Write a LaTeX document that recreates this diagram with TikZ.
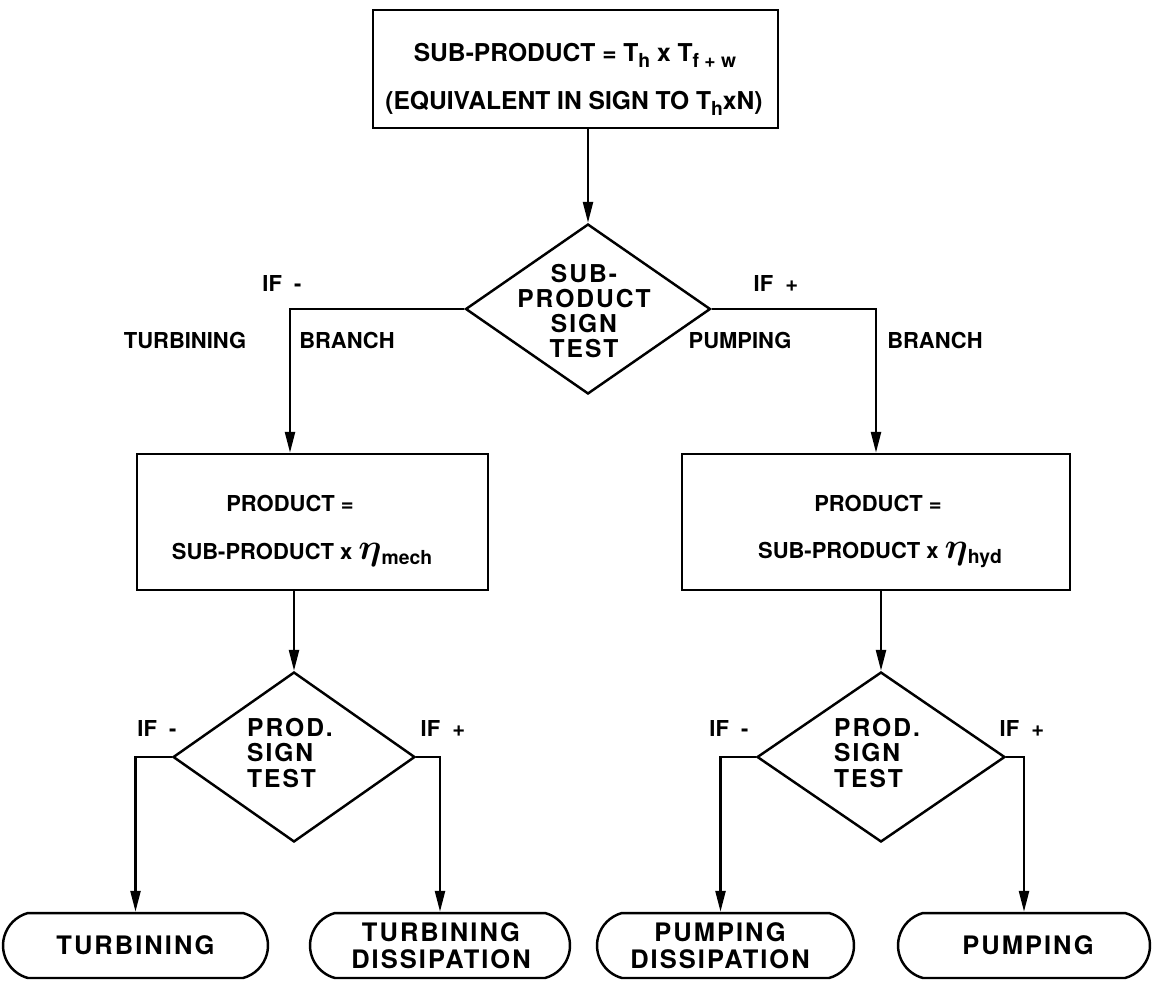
\documentclass[tikz,border=0pt]{standalone}
\usepackage{fontspec}
\setmainfont{TeX Gyre Heros}
\usetikzlibrary{shapes.geometric,shapes.misc,arrows.meta}
\newcommand\sbs[1]{\raisebox{-0.45ex}{\fontsize{11}{11}\selectfont #1}}
\newcommand\etasym{{\fontsize{20}{20}\selectfont\boldmath$\eta$}}
\begin{document}
\begin{tikzpicture}[x=0.02cm,y=-0.02cm, line width=1.4pt,
  box/.style={draw, rectangle, inner sep=0pt},
  dia/.style={draw, diamond, inner sep=0pt, minimum width=4.9cm, minimum height=3.4cm},
  term/.style={draw, rounded rectangle, rounded rectangle arc length=150, inner sep=0pt, minimum height=1.3cm},
  txt/.style={font=\bfseries\fontsize{12.5}{14.5}\selectfont, inner sep=0pt, align=center},
  toptxt/.style={font=\bfseries\fontsize{14}{16}\selectfont, inner sep=0pt, align=center},
  dtxt/.style={font=\bfseries\fontsize{14}{14.3}\selectfont\addfontfeatures{LetterSpace=8}, inner sep=0pt, align=center},
  ttxt/.style={font=\bfseries\fontsize{14.5}{15.5}\selectfont\addfontfeatures{LetterSpace=8}, inner sep=0pt, align=center},
  arr/.style={-{Triangle[length=0.42cm,width=0.2cm]}}]
\useasboundingbox (0,0) rectangle (1155,980);

% top box
\node[box, minimum width=8.1cm, minimum height=2.36cm] (top) at (575.5,69) {};
\node[toptxt] (top1) at (575,55) {SUB-PRODUCT = T\sbs{h} x T\sbs{f + w}};
\node[toptxt] (top2) at (574,103) {(EQUIVALENT IN SIGN TO T\sbs{h}xN)};

% first decision
\node[dia] (d1) at (588,309) {};
\node[dtxt] (d1t) at (584,311) {SUB-\\PRODUCT\\SIGN\\TEST};

% boxes
\node[box, minimum width=7.02cm, minimum height=2.72cm] (b1) at (312.5,522) {};
\node[txt] (b1a) at (290,503) {PRODUCT =};
\node[txt] (b1b) at (302,555) {SUB-PRODUCT x \etasym\sbs{mech}};
\node[box, minimum width=7.76cm, minimum height=2.72cm] (b2) at (876,522) {};
\node[txt] (b2a) at (878,503) {PRODUCT =};
\node[txt] (b2b) at (880,555) {SUB-PRODUCT x \etasym\sbs{hyd}};

% second-level decisions
\node[dia, minimum width=4.84cm] (d2) at (294,757) {};
\node[dtxt, align=left] (d2t) at (290,753) {PROD.\\SIGN\\TEST};
\node[dia, minimum width=4.96cm] (d3) at (881,757) {};
\node[dtxt, align=left] (d3t) at (877,753) {PROD.\\SIGN\\TEST};

% terminals
\node[term, minimum width=5.3cm] (tm1) at (135.5,945.5) {};
\node[ttxt] (tm1t) at (135.5,945.5) {TURBINING};
\node[term, minimum width=5.2cm] (tm2) at (440,945.5) {};
\node[ttxt] (tm2t) at (441,945.5) {TURBINING\\DISSIPATION};
\node[term, minimum width=5.14cm] (tm3) at (725.5,945.5) {};
\node[ttxt] (tm3t) at (720,945.5) {PUMPING\\DISSIPATION};
\node[term, minimum width=5.04cm] (tm4) at (1024,945.5) {};
\node[ttxt] (tm4t) at (1028,945.5) {PUMPING};

% labels
\node[txt] (l1) at (282,283) {IF \ -};
\node[txt] (l2) at (776,283) {IF \ +};
\node[txt] (l3) at (185,340) {TURBINING};
\node[txt] (l4) at (347,340) {BRANCH};
\node[txt] (l5) at (740,340) {PUMPING};
\node[txt] (l6) at (935,340) {BRANCH};
\node[txt] (l7) at (157,728) {IF \ -};
\node[txt] (l8) at (443,728) {IF \ +};
\node[txt] (l9) at (729,728) {IF \ -};
\node[txt] (l10) at (1022,728) {IF \ +};

% connectors
\draw[arr] (d1.north |- top.south) -- (d1.north);
\draw[arr] (d1.west) -| ([xshift=-0.45cm]b1.north);
\draw[arr] (d1.east) -| (b2.north);
\draw[arr] (b1.south -| d2.north) -- (d2.north);
\draw[arr] (b2.south -| d3.north) -- (d3.north);
\draw[arr] (d2.west) -| (tm1.north);
\draw[arr] (d2.east) -| (tm2.north);
\draw[arr] (d3.west) -| ([xshift=-0.1cm]tm3.north);
\draw[arr] (d3.east) -| (tm4.north);
\end{tikzpicture}
\end{document}
